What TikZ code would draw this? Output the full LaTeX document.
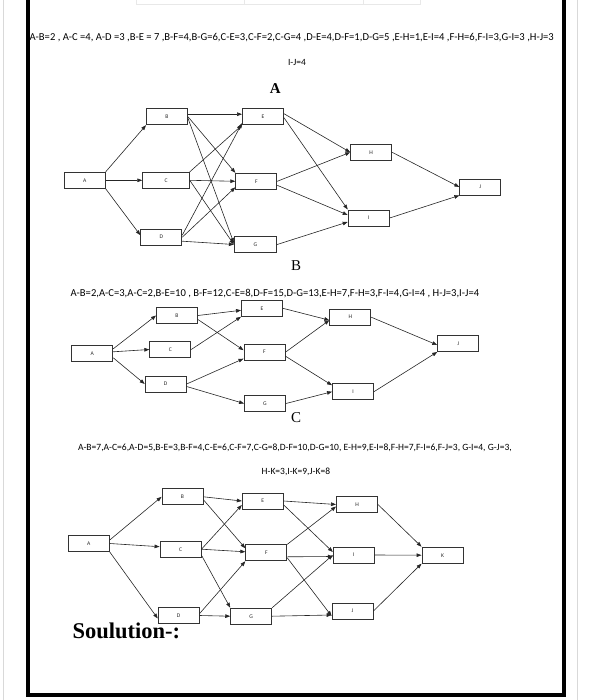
\documentclass[tikz,border=0pt]{standalone}
\usepackage{fontspec}
\setmainfont{Liberation Serif}
\newfontfamily\calib{Carlito}
\usetikzlibrary{arrows.meta, positioning}

\begin{document}
\begin{tikzpicture}[x=1pt, y=-1pt,
        task/.style={draw=black!80, line width=0.9pt, minimum width=41pt, minimum height=16pt, inner sep=0pt, text=black!85, font=\calib\fontsize{5.6}{6}\selectfont},
        info/.style={inner sep=0pt, font=\calib\fontsize{10.6}{12}\selectfont},
        head/.style={inner sep=0pt, font=\fontsize{15}{17}\selectfont},
        arrow/.style={-{Triangle[length=5pt, width=3.6pt]}, line width=0.6pt, draw=black!85},
        frame/.style={line width=4pt, draw=black}
    ]
        \useasboundingbox (0,0) rectangle (592,700);

        % page edges
        \draw[gray!30, line width=0.8pt] (3,0) -- (3,700);
        \draw[gray!30, line width=0.8pt] (577,0) -- (577,700);
        \draw[gray!18, line width=0.6pt, fill=white] (136,-2) rectangle (420,4);
        \draw[gray!18, line width=0.6pt] (244,-2) -- (244,4) (363,-2) -- (363,4);
        \draw[frame] (27.5,-3) -- (27.5,695) -- (564,695) -- (564,-3);

        % network A
        \node[info] (dataA) at (291.7,38) {A-B=2 , A-C =4, A-D =3 ,B-E = 7 ,B-F=4,B-G=6,C-E=3,C-F=2,C-G=4 ,D-E=4,D-F=1,D-G=5 ,E-H=1,E-I=4 ,F-H=6,F-I=3,G-I=3 ,H-J=3};
        \node[info, font=\calib\fontsize{9.5}{11}\selectfont] (dataA2) at (297,62) {I-J=4};
        \node[head, font=\bfseries\fontsize{15}{17}\selectfont] (titleA) at (275.3,89) {A};

        \node[task] (A1) at (84.7,180.3) {A};
        \node[task] (B1) at (167,116.7) {B};
        \node[task, minimum width=46.6pt] (C1) at (166,180.3) {C};
        \node[task] (D1) at (161.3,237.2) {D};
        \node[task] (E1) at (263,116.7) {E};
        \node[task] (F1) at (256.3,181.3) {F};
        \node[task, minimum width=42.4pt] (G1) at (255.5,244.5) {G};
        \node[task] (H1) at (371.2,152.3) {H};
        \node[task] (I1) at (368.7,218) {I};
        \node[task] (J1) at (480.3,187) {J};

        \draw[arrow] (A1.north east) -- (B1.south west);
        \draw[arrow] (A1.east) -- (C1.west);
        \draw[arrow] (A1.south east) -- ([yshift=2pt]D1.west);
        \draw[arrow] ([yshift=2.5pt]B1.east) -- ([yshift=2.5pt]E1.west);
        \draw[arrow] (B1.east) -- (F1.north west);
        \draw[arrow] ([yshift=-1.5pt]B1.east) -- ([yshift=1.5pt]G1.west);
        \draw[arrow] (C1.north east) -- (E1.south west);
        \draw[arrow] (C1.east) -- (F1.west);
        \draw[arrow] (C1.east) -- (G1.west);
        \draw[arrow] ([yshift=2pt]D1.east) -- ([yshift=2pt]E1.south west);
        \draw[arrow] (D1.east) -- ([yshift=2.5pt]F1.south west);
        \draw[arrow] ([yshift=-4pt]D1.east) -- (G1.west);
        \draw[arrow] ([yshift=3pt]E1.east) -- (H1.west);
        \draw[arrow] ([yshift=-1pt]E1.east) -- (I1.north west);
        \draw[arrow] (F1.east) -- (H1.west);
        \draw[arrow] ([yshift=-4pt]F1.east) -- ([yshift=3pt]I1.west);
        \draw[arrow] (G1.east) -- ([yshift=-4pt]I1.west);
        \draw[arrow] (H1.east) -- (J1.west);
        \draw[arrow] (I1.east) -- (J1.south west);

        % network B
        \node[head] (titleB) at (296,266) {B};
        \node[info] (dataB) at (274.9,293.3) {A-B=2,A-C=3,A-C=2,B-E=10 , B-F=12,C-E=8,D-F=15,D-G=13,E-H=7,F-H=3,F-I=4,G-I=4 , H-J=3,I-J=4};

        \node[task] (A2) at (92.3,353.8) {A};
        \node[task] (B2) at (177,315.5) {B};
        \node[task] (C2) at (170.3,349.5) {C};
        \node[task] (D2) at (165.7,384) {D};
        \node[task] (E2) at (262,308.3) {E};
        \node[task] (F2) at (264.5,352.2) {F};
        \node[task] (G2) at (265,403.5) {G};
        \node[task] (H2) at (350.3,317.2) {H};
        \node[task] (I2) at (353,391.7) {I};
        \node[task] (J2) at (458.2,343.5) {J};

        \draw[arrow] ([yshift=5pt]A2.east) -- (B2.west);
        \draw[arrow] ([yshift=2pt]A2.east) -- (C2.west);
        \draw[arrow] ([yshift=-4pt]A2.east) -- (D2.west);
        \draw[arrow] (B2.east) -- ([yshift=-2pt]E2.west);
        \draw[arrow] ([yshift=-4pt]B2.east) -- ([yshift=2pt]F2.west);
        \draw[arrow] (C2.east) -- (E2.south west);
        \draw[arrow] (D2.east) -- ([yshift=2pt]F2.south west);
        \draw[arrow] ([yshift=-2.5pt]D2.east) -- (G2.west);
        \draw[arrow] (E2.east) -- ([yshift=-3pt]H2.west);
        \draw[arrow] (F2.east) -- ([yshift=-3pt]H2.west);
        \draw[arrow] ([yshift=-4pt]F2.east) -- ([yshift=-2pt]I2.north west);
        \draw[arrow] (G2.east) -- (I2.west);
        \draw[arrow] (H2.east) -- ([yshift=-1.5pt]J2.west);
        \draw[arrow] (I2.east) -- (J2.south west);

        % network C
        \node[head] (titleC) at (296,418) {C};
        \node[info, font=\calib\fontsize{9.55}{11}\selectfont] (dataC) at (294.9,448.3) {A-B=7,A-C=6,A-D=5,B-E=3,B-F=4,C-E=6,C-F=7,C-G=8,D-F=10,D-G=10, E-H=9,E-I=8,F-H=7,F-I=6,F-J=3, G-I=4, G-J=3,};
        \node[info, font=\calib\fontsize{9.5}{11}\selectfont] (dataC2) at (295.9,471.7) {H-K=3,I-K=9,J-K=8};

        \node[task] (A3) at (88.8,543.5) {A};
        \node[task] (B3) at (182.5,496.8) {B};
        \node[task] (C3) at (180.5,549.2) {C};
        \node[task] (D3) at (178.7,615.5) {D};
        \node[task] (E3) at (262.8,501) {E};
        \node[task] (F3) at (266.3,552.8) {F};
        \node[task] (G3) at (251.2,616.2) {G};
        \node[task] (H3) at (357,504.5) {H};
        \node[task] (I3) at (353.8,555) {I};
        \node[task] (J3) at (352.5,611) {J};
        \node[task] (K3) at (442.5,555.2) {K};

        \draw[arrow] ([yshift=3.5pt]A3.east) -- (B3.west);
        \draw[arrow] (A3.east) -- ([yshift=2.5pt]C3.west);
        \draw[arrow] (A3.south east) -- ([yshift=-3pt]D3.west);
        \draw[arrow] (B3.east) -- (E3.west);
        \draw[arrow] ([yshift=-3pt]B3.east) -- ([yshift=4.5pt]F3.west);
        \draw[arrow] (C3.east) -- ([yshift=-4pt]E3.west);
        \draw[arrow] (C3.east) -- ([yshift=1pt]F3.west);
        \draw[arrow] ([yshift=-6pt]C3.east) -- (G3.north west);
        \draw[arrow] ([yshift=2pt]D3.east) -- (F3.south west);
        \draw[arrow] (D3.east) -- (G3.west);
        \draw[arrow] (E3.east) -- (H3.west);
        \draw[arrow] ([yshift=-4pt]E3.east) -- ([yshift=3pt]I3.west);
        \draw[arrow] (F3.north east) -- ([yshift=-2pt]H3.west);
        \draw[arrow] ([yshift=-4pt]F3.east) -- ([yshift=-1.5pt]I3.west);
        \draw[arrow] ([yshift=-5pt]F3.east) -- ([yshift=-5pt]J3.west);
        \draw[arrow] (G3.north east) -- (I3.west);
        \draw[arrow] (G3.east) -- ([yshift=-4pt]J3.west);
        \draw[arrow] (H3.east) -- (K3.north west);
        \draw[arrow] (I3.east) -- (K3.west);
        \draw[arrow] (J3.east) -- (K3.south west);

        \node[anchor=base west, inner sep=0pt, font=\bfseries\fontsize{22.5}{26}\selectfont] (soln) at (72.3,638.3) {Soulution-:};
\end{tikzpicture}
\end{document}
